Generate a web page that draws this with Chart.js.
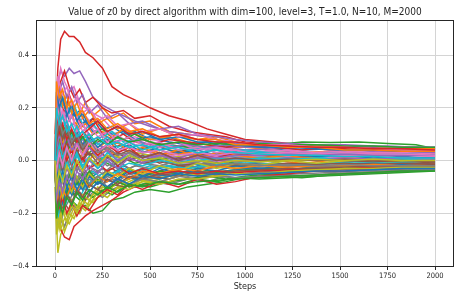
<!DOCTYPE html>
<html><head><meta charset="utf-8">
<script src="https://cdn.jsdelivr.net/npm/chart.js@4.4.1/dist/chart.umd.min.js"></script>
<style>html,body{margin:0;padding:0;background:#fff}#wrap{width:454px;height:298px}</style>
</head><body><div id="wrap"><canvas id="c" width="454" height="298"></canvas></div>
<script>
const titleText = 'Value of z0 by direct algorithm with dim=100, level=3, T=1.0, N=10, M=2000';
const stepsA = [0,15,30,50,75,100,130,160,200,250,300,360,420,500,600,700,800,900,1000,1150,1300,1450,1600,1750,1900,2000];
const stepsB = [0,8,22,40,62,88,115,145,180,225,275,330,390,460,550,650,750,850,950,1075,1225,1375,1525,1675,1825,2000];
const xTicks = [0,250,500,750,1000,1250,1500,1750,2000];
const yTicks = [-0.4,-0.2,0,0.2,0.4];
const colors = ['#1f77b4','#ff7f0e','#2ca02c','#d62728','#9467bd','#8c564b','#e377c2','#7f7f7f','#bcbd22','#17becf'];

const s00 = [0.02,0.12,0.18,0.15,0.20,0.17,0.19,0.14,0.16,0.12,0.13,0.10,0.11,0.08,0.09,0.06,0.07,0.05,0.06,0.04,0.05,0.04,0.03,0.04,0.03,0.03];
const s01 = [0.0,-0.05,0.08,0.12,0.06,0.10,0.18,0.22,0.17,0.20,0.16,0.18,0.14,0.15,0.11,0.10,0.09,0.07,0.06,0.05,0.06,0.04,0.05,0.04,0.04,0.03];
const s02 = [0.0,-0.08,-0.12,-0.10,-0.14,-0.16,-0.18,-0.17,-0.20,-0.19,-0.15,-0.14,-0.12,-0.11,-0.12,-0.10,-0.09,-0.08,-0.065,-0.06,-0.065,-0.055,-0.05,-0.045,-0.04,-0.035];
const s03 = [0.1,0.35,0.46,0.49,0.47,0.47,0.45,0.41,0.39,0.35,0.28,0.25,0.23,0.20,0.17,0.15,0.12,0.10,0.08,0.07,0.06,0.055,0.05,0.05,0.045,0.045];
const s04 = [0.05,0.30,0.34,0.32,0.35,0.33,0.34,0.30,0.24,0.21,0.19,0.17,0.15,0.13,0.11,0.10,0.09,0.07,0.06,0.06,0.05,0.05,0.055,0.05,0.05,0.045];
const s05 = [-0.02,0.05,-0.03,0.02,0.06,0.03,0.01,0.04,0.02,0.05,0.03,0.02,0.04,0.03,0.02,0.03,0.01,0.02,0.01,0.015,0.01,0.0,0.01,0.005,0.0,0.0];
const s06 = [0.0,0.28,0.35,0.30,0.26,0.28,0.22,0.20,0.18,0.16,0.12,0.13,0.10,0.08,0.07,0.06,0.05,0.04,0.04,0.03,0.03,0.02,0.025,0.02,0.02,0.02];
const s07 = [-0.05,-0.2,-0.24,-0.18,-0.15,-0.12,-0.10,-0.11,-0.08,-0.09,-0.07,-0.08,-0.06,-0.07,-0.05,-0.06,-0.05,-0.04,-0.05,-0.045,-0.04,-0.035,-0.03,-0.03,-0.025,-0.02];
const s08 = [-0.1,-0.35,-0.28,-0.25,-0.20,-0.22,-0.17,-0.19,-0.15,-0.13,-0.11,-0.10,-0.09,-0.07,-0.06,-0.05,-0.04,-0.04,-0.03,-0.03,-0.02,-0.02,-0.015,-0.01,-0.01,-0.01];
const s09 = [0.02,0.15,0.10,0.05,0.08,0.02,0.04,0.0,0.03,0.01,0.02,0.0,0.01,0.02,0.0,0.01,0.02,0.01,0.02,0.01,0.015,0.01,0.02,0.015,0.01,0.01];
const s10 = [-0.03,-0.12,-0.06,-0.10,-0.04,-0.07,-0.09,-0.05,-0.06,-0.03,-0.05,-0.02,-0.04,-0.03,-0.02,-0.03,-0.01,-0.02,-0.01,-0.015,-0.01,-0.02,-0.01,-0.01,-0.015,-0.01];
const s11 = [0.01,0.18,0.25,0.20,0.22,0.15,0.12,0.14,0.10,0.11,0.09,0.12,0.10,0.08,0.09,0.07,0.06,0.05,0.05,0.04,0.03,0.035,0.03,0.025,0.03,0.025];
const s12 = [0.0,0.10,0.05,0.12,0.08,0.03,0.06,0.02,0.04,0.0,-0.02,0.01,-0.01,0.0,0.01,-0.01,0.0,-0.01,0.0,0.01,0.02,0.03,0.04,0.04,0.035,0.03];
const s13 = [-0.05,-0.20,-0.26,-0.29,-0.30,-0.25,-0.23,-0.21,-0.19,-0.17,-0.15,-0.12,-0.10,-0.09,-0.08,-0.07,-0.06,-0.05,-0.04,-0.035,-0.03,-0.025,-0.02,-0.02,-0.015,-0.015];
const s14 = [0.03,0.22,0.15,0.18,0.12,0.14,0.10,0.12,0.08,0.09,0.07,0.08,0.06,0.05,0.06,0.05,0.04,0.05,0.04,0.045,0.05,0.04,0.045,0.04,0.04,0.04];
const s15 = [0.0,-0.10,-0.15,-0.08,-0.12,-0.06,-0.09,-0.04,-0.07,-0.05,-0.03,-0.06,-0.04,-0.05,-0.03,-0.02,-0.03,-0.02,-0.02,-0.01,-0.02,-0.01,-0.015,-0.01,-0.01,-0.005];
const s16 = [0.02,0.32,0.25,0.22,0.16,0.20,0.15,0.17,0.13,0.10,0.11,0.08,0.09,0.07,0.05,0.06,0.04,0.05,0.03,0.04,0.03,0.03,0.025,0.02,0.025,0.02];
const s17 = [-0.04,-0.15,-0.22,-0.25,-0.20,-0.17,-0.20,-0.15,-0.12,-0.14,-0.11,-0.09,-0.10,-0.08,-0.09,-0.07,-0.08,-0.06,-0.07,-0.055,-0.06,-0.05,-0.045,-0.04,-0.035,-0.03];
const s18 = [-0.02,-0.25,-0.20,-0.27,-0.22,-0.18,-0.20,-0.14,-0.16,-0.12,-0.10,-0.08,-0.06,-0.05,-0.04,-0.03,-0.02,-0.03,-0.02,-0.01,-0.015,-0.01,0.0,-0.005,0.0,0.0];
const s19 = [0.0,-0.15,-0.10,-0.05,-0.12,-0.08,-0.14,-0.10,-0.07,-0.05,-0.06,-0.03,-0.04,-0.02,-0.03,-0.01,-0.02,0.0,-0.01,0.0,0.01,0.0,0.005,0.01,0.005,0.01];
const s20 = [0.01,0.20,0.25,0.21,0.15,0.18,0.13,0.15,0.11,0.12,0.10,0.11,0.08,0.09,0.07,0.06,0.07,0.05,0.06,0.05,0.04,0.045,0.04,0.035,0.03,0.03];
const s21 = [-0.01,0.05,0.10,0.03,0.07,0.02,0.05,0.08,0.04,0.06,0.09,0.12,0.10,0.07,0.04,0.03,0.02,0.03,0.02,0.02,0.01,0.02,0.015,0.02,0.01,0.015];
const s22 = [0.0,-0.05,0.02,-0.03,0.05,0.08,0.04,0.06,0.10,0.12,0.09,0.08,0.10,0.07,0.06,0.05,0.05,0.06,0.055,0.06,0.07,0.068,0.07,0.065,0.06,0.045];
const s23 = [0.0,0.15,0.22,0.18,0.25,0.20,0.15,0.12,0.16,0.10,0.08,0.10,0.07,0.06,0.08,0.07,0.06,0.05,0.06,0.05,0.04,0.05,0.04,0.04,0.035,0.04];
const s24 = [-0.01,-0.05,0.05,0.10,0.06,0.09,0.05,0.07,0.03,0.05,0.02,0.04,0.03,0.02,0.03,0.02,0.01,0.02,0.02,0.03,0.025,0.03,0.03,0.035,0.04,0.04];
const s25 = [0.03,0.10,0.15,0.08,0.12,0.09,0.07,0.10,0.06,0.08,0.05,0.06,0.04,0.05,0.03,0.04,0.02,0.03,0.02,0.02,0.015,0.02,0.01,0.015,0.01,0.01];
const s26 = [-0.02,-0.08,-0.03,-0.06,0.0,-0.04,-0.02,0.01,-0.01,0.02,0.0,0.01,0.0,-0.01,0.0,-0.01,0.0,-0.005,0.0,0.005,0.0,0.01,0.005,0.0,0.005,0.0];
const s27 = [0.0,0.08,0.02,0.05,-0.02,0.01,-0.04,-0.02,-0.05,-0.03,-0.06,-0.04,-0.05,-0.06,-0.05,-0.04,-0.05,-0.045,-0.05,-0.055,-0.05,-0.045,-0.04,-0.035,-0.03,-0.025];
const s28 = [0.0,-0.18,-0.26,-0.22,-0.24,-0.20,-0.16,-0.18,-0.13,-0.10,-0.12,-0.09,-0.07,-0.08,-0.06,-0.05,-0.06,-0.04,-0.03,-0.035,-0.03,-0.02,-0.025,-0.02,-0.02,-0.015];
const s29 = [0.01,0.12,0.20,0.24,0.18,0.21,0.16,0.12,0.14,0.09,0.11,0.07,0.08,0.05,0.06,0.04,0.05,0.03,0.04,0.03,0.02,0.03,0.02,0.025,0.02,0.02];
const s30 = [0.0,-0.06,-0.12,-0.15,-0.09,-0.13,-0.11,-0.08,-0.10,-0.07,-0.08,-0.06,-0.07,-0.05,-0.06,-0.04,-0.05,-0.04,-0.03,-0.04,-0.035,-0.03,-0.03,-0.025,-0.03,-0.025];
const s31 = [0.0,0.2,0.12,0.06,0.10,0.0,0.05,-0.02,0.02,-0.01,0.03,0.0,0.02,0.04,0.02,0.03,0.01,0.0,0.01,0.0,-0.01,0.0,-0.005,0.0,0.005,0.0];
const s32 = [-0.03,-0.12,-0.18,-0.14,-0.10,-0.13,-0.15,-0.12,-0.14,-0.11,-0.13,-0.10,-0.09,-0.10,-0.08,-0.07,-0.06,-0.07,-0.06,-0.05,-0.04,-0.03,-0.03,-0.025,-0.02,-0.02];
const s33 = [0.0,0.25,0.30,0.34,0.28,0.24,0.27,0.22,0.24,0.20,0.18,0.19,0.16,0.17,0.13,0.11,0.10,0.09,0.07,0.06,0.05,0.05,0.045,0.04,0.04,0.035];
const s34 = [0.0,0.05,-0.02,0.03,0.08,0.04,0.10,0.06,0.08,0.05,0.07,0.06,0.08,0.06,0.05,0.06,0.05,0.06,0.05,0.05,0.055,0.05,0.05,0.055,0.05,0.05];
const s35 = [0.0,-0.15,-0.20,-0.16,-0.19,-0.14,-0.12,-0.15,-0.10,-0.12,-0.09,-0.10,-0.08,-0.06,-0.07,-0.05,-0.06,-0.04,-0.05,-0.04,-0.035,-0.03,-0.035,-0.03,-0.025,-0.02];
const s36 = [0.02,0.18,0.12,0.15,0.10,0.06,0.08,0.04,0.06,0.03,0.05,0.02,0.04,0.03,0.02,0.01,0.02,0.01,0.015,0.01,0.02,0.015,0.01,0.015,0.01,0.01];
const s37 = [0.0,-0.08,-0.14,-0.10,-0.06,-0.09,-0.05,-0.07,-0.03,-0.05,-0.02,-0.04,-0.02,-0.03,-0.01,-0.02,-0.03,-0.02,-0.025,-0.03,-0.035,-0.04,-0.045,-0.04,-0.035,-0.03];
const s38 = [0.0,-0.05,0.03,0.08,0.03,0.06,0.01,0.04,0.02,0.0,0.02,0.01,0.03,0.02,0.01,0.02,0.0,0.01,0.0,0.01,0.0,0.005,0.0,0.005,0.01,0.005];
const s39 = [0.0,-0.22,-0.15,-0.18,-0.12,-0.08,-0.10,-0.06,-0.04,-0.07,-0.05,-0.03,-0.05,-0.03,-0.02,-0.03,-0.02,-0.01,-0.02,-0.01,-0.015,-0.01,-0.005,-0.01,-0.005,0.0];

const s40 = [0.0,0.08,0.14,0.09,0.13,0.07,0.11,0.06,0.09,0.05,0.08,0.04,0.06,0.03,0.05,0.03,0.04,0.02,0.03,0.02,0.025,0.015,0.02,0.01,0.015,0.01];
const s41 = [0.0,-0.04,0.02,0.07,0.01,0.05,-0.01,0.03,0.06,0.02,0.04,0.07,0.03,0.05,0.02,0.04,0.01,0.03,0.02,0.01,0.02,0.0,0.01,0.005,0.01,0.0];
const s42 = [0.0,-0.1,-0.05,-0.12,-0.07,-0.11,-0.06,-0.09,-0.04,-0.08,-0.05,-0.07,-0.03,-0.06,-0.04,-0.05,-0.03,-0.045,-0.04,-0.03,-0.035,-0.025,-0.03,-0.02,-0.025,-0.02];
const s43 = [0.0,0.12,0.05,0.02,0.07,-0.02,0.03,0.0,0.05,0.02,0.06,0.03,0.05,0.01,0.03,0.0,0.02,0.01,0.03,0.02,0.03,0.02,0.025,0.02,0.025,0.02];
const s44 = [0.0,-0.06,-0.12,-0.08,-0.03,-0.07,-0.02,-0.05,0.0,-0.03,0.01,-0.02,0.02,0.0,0.02,0.01,0.03,0.02,0.03,0.025,0.03,0.02,0.025,0.03,0.025,0.03];
const s45 = [0.0,0.15,0.09,0.12,0.05,0.08,0.03,0.06,0.02,0.04,0.01,0.03,0.0,0.02,-0.01,0.01,0.0,-0.01,0.0,-0.005,0.0,0.005,0.0,-0.005,0.0,0.0];
const s46 = [0.0,0.05,0.12,0.19,0.14,0.17,0.11,0.14,0.09,0.12,0.07,0.10,0.06,0.08,0.05,0.07,0.04,0.05,0.04,0.03,0.04,0.03,0.035,0.03,0.03,0.025];
const s47 = [0.0,-0.12,-0.07,-0.13,-0.09,-0.12,-0.08,-0.11,-0.07,-0.09,-0.06,-0.08,-0.05,-0.07,-0.05,-0.06,-0.04,-0.05,-0.04,-0.045,-0.035,-0.04,-0.03,-0.035,-0.03,-0.03];
const s48 = [0.0,-0.28,-0.22,-0.18,-0.21,-0.15,-0.18,-0.13,-0.15,-0.10,-0.12,-0.08,-0.10,-0.07,-0.08,-0.06,-0.05,-0.06,-0.04,-0.04,-0.03,-0.035,-0.03,-0.025,-0.02,-0.02];
const s49 = [0.0,0.10,0.17,0.12,0.15,0.09,0.13,0.08,0.10,0.06,0.09,0.05,0.07,0.04,0.06,0.04,0.05,0.03,0.04,0.03,0.03,0.025,0.03,0.02,0.025,0.02];
const s50 = [0.0,-0.18,-0.12,-0.16,-0.10,-0.13,-0.08,-0.11,-0.06,-0.09,-0.05,-0.07,-0.04,-0.06,-0.03,-0.05,-0.03,-0.04,-0.02,-0.03,-0.02,-0.025,-0.02,-0.02,-0.015,-0.015];
const s51 = [0.0,0.22,0.28,0.21,0.25,0.18,0.22,0.16,0.19,0.14,0.16,0.12,0.14,0.10,0.12,0.09,0.08,0.09,0.07,0.06,0.05,0.055,0.05,0.045,0.05,0.045];
const s52 = [0.0,0.02,-0.06,-0.01,-0.08,-0.03,-0.09,-0.05,-0.10,-0.07,-0.11,-0.08,-0.10,-0.09,-0.08,-0.09,-0.07,-0.08,-0.065,-0.07,-0.065,-0.06,-0.055,-0.05,-0.045,-0.04];
const s53 = [0.0,-0.12,-0.18,-0.14,-0.20,-0.16,-0.21,-0.17,-0.19,-0.14,-0.11,-0.13,-0.09,-0.11,-0.08,-0.10,-0.07,-0.09,-0.08,-0.06,-0.05,-0.04,-0.04,-0.03,-0.03,-0.025];
const s54 = [0.0,0.18,0.26,0.30,0.24,0.28,0.22,0.25,0.18,0.21,0.16,0.18,0.14,0.15,0.12,0.13,0.10,0.09,0.08,0.07,0.065,0.06,0.06,0.055,0.05,0.05];
const s55 = [0.0,-0.06,0.0,-0.04,0.03,-0.01,0.04,0.0,0.03,-0.01,0.02,-0.02,0.01,-0.01,0.0,-0.02,-0.01,-0.02,-0.015,-0.02,-0.01,-0.015,-0.01,-0.015,-0.01,-0.01];
const s56 = [0.0,0.12,0.22,0.16,0.20,0.13,0.17,0.11,0.14,0.09,0.11,0.07,0.09,0.06,0.07,0.04,0.05,0.03,0.04,0.02,0.03,0.02,0.02,0.015,0.02,0.015];
const s57 = [0.0,0.06,0.0,0.04,-0.03,0.02,-0.04,0.0,-0.03,0.01,-0.02,0.0,-0.03,-0.01,-0.02,0.0,-0.01,-0.02,-0.01,-0.015,-0.02,-0.025,-0.03,-0.03,-0.025,-0.03];
const s58 = [0.0,-0.15,-0.09,-0.14,-0.08,-0.12,-0.06,-0.10,-0.05,-0.08,-0.04,-0.06,-0.03,-0.05,-0.02,-0.04,-0.01,-0.03,-0.01,-0.02,0.0,-0.01,0.0,0.005,0.0,0.005];
const s59 = [0.0,-0.08,-0.02,-0.07,0.0,-0.05,0.02,-0.03,0.01,-0.02,0.03,0.0,0.02,0.0,0.01,-0.01,0.01,0.0,0.01,0.005,0.01,0.0,0.005,0.0,0.005,0.0];
const s60 = [0.0,0.26,0.20,0.24,0.17,0.21,0.15,0.18,0.13,0.15,0.11,0.13,0.10,0.11,0.08,0.09,0.07,0.07,0.06,0.05,0.05,0.045,0.04,0.04,0.035,0.035];
const s61 = [0.0,-0.1,-0.16,-0.11,-0.14,-0.09,-0.12,-0.07,-0.10,-0.06,-0.08,-0.05,-0.07,-0.04,-0.05,-0.03,-0.04,-0.02,-0.03,-0.02,-0.025,-0.02,-0.02,-0.015,-0.02,-0.015];
const s62 = [0.0,0.14,0.08,0.13,0.07,0.11,0.06,0.09,0.05,0.08,0.06,0.09,0.07,0.08,0.06,0.07,0.06,0.065,0.06,0.065,0.06,0.06,0.055,0.055,0.05,0.05];
const s63 = [0.0,0.08,0.02,0.06,0.0,0.04,-0.02,0.01,-0.03,-0.01,-0.04,-0.02,-0.05,-0.03,-0.05,-0.04,-0.05,-0.04,-0.045,-0.04,-0.035,-0.03,-0.03,-0.025,-0.02,-0.02];
const s64 = [0.0,0.04,0.10,0.05,0.09,0.04,0.07,0.02,0.05,0.01,0.04,0.0,0.03,0.01,0.02,0.0,0.01,0.0,0.005,0.0,0.01,0.005,0.01,0.005,0.01,0.005];
const s65 = [0.0,-0.2,-0.14,-0.19,-0.13,-0.16,-0.11,-0.14,-0.09,-0.11,-0.07,-0.09,-0.06,-0.07,-0.05,-0.06,-0.04,-0.05,-0.04,-0.035,-0.03,-0.03,-0.025,-0.02,-0.02,-0.015];
const s66 = [0.0,0.24,0.30,0.25,0.28,0.21,0.24,0.18,0.20,0.15,0.17,0.13,0.14,0.11,0.12,0.09,0.10,0.08,0.07,0.06,0.06,0.05,0.05,0.045,0.04,0.04];
const s67 = [0.0,0.02,-0.05,0.0,-0.07,-0.02,-0.08,-0.04,-0.09,-0.06,-0.10,-0.07,-0.09,-0.07,-0.08,-0.06,-0.07,-0.06,-0.065,-0.06,-0.06,-0.055,-0.05,-0.045,-0.04,-0.035];
const s68 = [0.0,-0.2,-0.26,-0.19,-0.23,-0.17,-0.2,-0.15,-0.17,-0.12,-0.14,-0.10,-0.11,-0.08,-0.09,-0.07,-0.07,-0.06,-0.05,-0.05,-0.04,-0.035,-0.03,-0.03,-0.025,-0.025];
const s69 = [0.0,0.0,0.06,0.01,0.05,-0.01,0.03,-0.02,0.01,-0.03,0.0,-0.03,-0.01,-0.02,0.0,-0.01,0.0,0.01,0.0,0.01,0.005,0.01,0.0,0.005,0.0,0.0];
const s70 = [0.0,-0.03,-0.09,-0.04,-0.1,-0.06,-0.11,-0.07,-0.12,-0.08,-0.1,-0.07,-0.09,-0.06,-0.07,-0.05,-0.06,-0.05,-0.055,-0.05,-0.045,-0.04,-0.04,-0.035,-0.03,-0.03];
const s71 = [0.0,0.3,0.24,0.27,0.2,0.23,0.17,0.19,0.14,0.16,0.12,0.14,0.11,0.12,0.09,0.1,0.08,0.08,0.06,0.06,0.05,0.05,0.04,0.04,0.035,0.035];
const s72 = [0.0,-0.22,-0.16,-0.2,-0.14,-0.17,-0.12,-0.15,-0.11,-0.13,-0.1,-0.12,-0.09,-0.1,-0.08,-0.09,-0.08,-0.075,-0.07,-0.065,-0.06,-0.055,-0.05,-0.045,-0.04,-0.04];
const s73 = [0.0,0.16,0.1,0.14,0.08,0.12,0.07,0.1,0.12,0.15,0.11,0.13,0.1,0.11,0.09,0.1,0.08,0.07,0.07,0.06,0.055,0.05,0.05,0.045,0.045,0.04];
const s74 = [0.0,-0.14,-0.08,-0.12,-0.06,-0.1,-0.04,-0.07,-0.02,-0.05,0.0,-0.03,0.01,-0.01,0.02,0.0,0.02,0.01,0.02,0.02,0.025,0.02,0.025,0.02,0.02,0.02];
const s75 = [0.0,0.07,0.13,0.08,0.12,0.06,0.09,0.04,0.07,0.03,0.05,0.02,0.04,0.01,0.03,0.0,0.02,0.0,0.01,0.0,0.005,0.0,0.005,0.0,0.0,-0.005];
const s76 = [0.0,-0.04,0.03,-0.02,0.05,0.0,0.06,0.02,0.07,0.03,0.06,0.04,0.05,0.03,0.04,0.02,0.03,0.02,0.03,0.025,0.03,0.025,0.03,0.025,0.025,0.02];
const s77 = [0.0,0.1,0.16,0.1,0.13,0.07,0.1,0.05,0.08,0.03,0.05,0.02,0.03,0.0,0.01,-0.01,0.0,-0.02,-0.01,-0.02,-0.015,-0.02,-0.015,-0.02,-0.02,-0.02];
const s78 = [0.0,-0.1,-0.04,-0.08,-0.02,-0.06,0.0,-0.04,0.01,-0.02,0.02,-0.01,0.02,0.0,0.01,-0.01,0.0,-0.01,0.0,-0.005,0.0,0.005,0.0,0.005,0.0,0.0];
const s79 = [0.0,0.2,0.14,0.17,0.11,0.14,0.09,0.11,0.07,0.09,0.06,0.07,0.05,0.06,0.04,0.05,0.03,0.04,0.03,0.025,0.02,0.02,0.015,0.015,0.01,0.01];

const groupA = [s00,s01,s02,s03,s04,s05,s06,s07,s08,s09,s10,s11,s12,s13,s14,s15,s16,s17,s18,s19,
                s20,s21,s22,s23,s24,s25,s26,s27,s28,s29,s30,s31,s32,s33,s34,s35,s36,s37,s38,s39];
const groupB = [s40,s41,s42,s43,s44,s45,s46,s47,s48,s49,s50,s51,s52,s53,s54,s55,s56,s57,s58,s59,
                s60,s61,s62,s63,s64,s65,s66,s67,s68,s69,s70,s71,s72,s73,s74,s75,s76,s77,s78,s79];

const datasets = [];
groupA.forEach((vals, i) => datasets.push({ vals, steps: stepsA, i }));
groupB.forEach((vals, i) => datasets.push({ vals, steps: stepsB, i: i + 40 }));
const ds = datasets.map(d => ({
  data: d.vals.map((v, k) => ({ x: d.steps[k], y: v })),
  borderColor: colors[d.i % 10],
  borderWidth: 1.5,
  pointRadius: 0,
  fill: false,
  tension: 0,
  order: 100 - d.i
}));

const FONT = "'DejaVu Sans Condensed', 'DejaVu Sans', sans-serif";

const frame = {
  id: 'frame',
  afterDraw(chart) {
    const a = chart.chartArea, ctx = chart.ctx;
    ctx.save();
    ctx.strokeStyle = '#262626';
    ctx.lineWidth = 1;
    ctx.strokeRect(Math.round(a.left) + 0.5, Math.round(a.top) + 0.5, Math.round(a.right - a.left) - 1, Math.round(a.bottom - a.top));
    ctx.fillStyle = '#262626';
    ctx.font = "10px " + FONT;
    ctx.textAlign = 'center';
    ctx.textBaseline = 'middle';
    ctx.fillText(titleText, (a.left + a.right) / 2, 12.5);
    ctx.restore();
  }
};

new Chart(document.getElementById('c'), {
  type: 'line',
  data: { datasets: ds },
  plugins: [frame],
  options: {
    responsive: false,
    animation: false,
    layout: { padding: { top: 20, left: 0, right: 0, bottom: 0 } },
    plugins: {
      legend: { display: false },
      tooltip: { enabled: false },
      title: { display: false }
    },
    scales: {
      x: {
        type: 'linear',
        min: -100, max: 2100,
        afterBuildTicks: s => { s.ticks = xTicks.map(v => ({ value: v })); },
        afterFit: s => { s.height = 32; },
        ticks: {
          color: '#262626', font: { family: FONT, size: 7.5 }, padding: 2, maxRotation: 0,
          callback: v => String(v)
        },
        grid: { color: '#d4d4d4', lineWidth: 1, drawTicks: true, tickLength: 4, tickColor: '#262626' },
        border: { display: true, color: '#262626', width: 1 },
        title: { display: true, text: 'Steps', color: '#262626', font: { family: FONT, size: 9 }, padding: { top: 0, bottom: 6 } }
      },
      y: {
        type: 'linear',
        min: -0.4, max: 0.533,
        afterBuildTicks: s => { s.ticks = yTicks.map(v => ({ value: v })); },
        afterFit: s => { s.width = 36; },
        ticks: {
          color: '#262626', font: { family: FONT, size: 7.5 }, padding: 3,
          callback: v => (v < 0 ? '\u2212' : '') + Math.abs(v).toFixed(1)
        },
        grid: { color: '#d4d4d4', lineWidth: 1, drawTicks: true, tickLength: 4, tickColor: '#262626' },
        border: { display: true, color: '#262626', width: 1 }
      }
    }
  }
});
</script>
</body></html>
